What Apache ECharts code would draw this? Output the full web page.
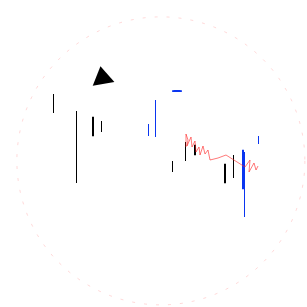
<!DOCTYPE html>
<html><head><meta charset="utf-8">
<script src="https://cdn.jsdelivr.net/npm/echarts@6/dist/echarts.min.js"></script>
<style>html,body{margin:0;padding:0;background:#fff}#c{width:307px;height:307px}</style>
</head><body><div id="c"></div>
<script>
// [x, open, close, low, high]
const blackThin = [[54,194,213,194,213],[77,124,196,124,196],[173,135,146,135,146]];
const blackMid = [[102,175,186,175,186],[186,146,165,146,165],[234,129,152,129,152]];
const blackWide = [[93,171,190,171,190],[195,152,162,152,162],[225,124,143,124,143]];
const blueThin = [[245,90,155,90,155]];
const blueMid = [[149,171,183,171,183],[156,170,207,170,207],[259,163,171,163,171]];
const blueWide = [[243,118,157,118,157]];
const triangle = [[102,232]];
const blueCap = [[177,216]];
const redScribble = [[186,160],[186,173],[188,167],[187,161],[191,170],[192,160],[195,166],[196,155],[199,160],[200,152],[203,161],[205,153],[208,157],[210,147],[218,149],[226,152],[245,140],[250,147],[249,135],[254,144],[256,137],[258,141]];

const BLACK='#000000', BLUE='#0a35f0', RED='#ff2020';
function candle(data,color,w){
  return {type:'candlestick',data:data,encode:{x:0,y:[1,2,3,4]},barWidth:w,
    itemStyle:{color:color,color0:color,borderColor:color,borderColor0:color,borderWidth:1,opacity:1},silent:true};
}
const chart = echarts.init(document.getElementById('c'),null,{renderer:'canvas'});
chart.setOption({
  animation:false,
  grid:{left:0,right:0,top:0,bottom:0},
  xAxis:{type:'value',min:0,max:307,show:false},
  yAxis:{type:'value',min:0,max:307,show:false},
  polar:{center:['52.4%','52.4%'],radius:144},
  angleAxis:{type:'value',min:0,max:360,axisLine:{lineStyle:{color:RED,width:0.25,type:[3,9],opacity:0.7}},axisTick:{show:false},axisLabel:{show:false},splitLine:{show:false}},
  radiusAxis:{show:false,min:0,max:1},
  series:[
    candle(blackThin,BLACK,0.1),
    candle(blackMid,BLACK,1),
    candle(blackWide,BLACK,2),
    candle(blueThin,BLUE,0.1),
    candle(blueMid,BLUE,1),
    candle(blueWide,BLUE,2),
    {type:'scatter',data:triangle,symbol:'triangle',symbolSize:[22,18],symbolRotate:10,itemStyle:{color:BLACK,opacity:1}},
    {type:'scatter',data:blueCap,symbol:'roundRect',symbolSize:[10,2],itemStyle:{color:BLUE,opacity:1}},
    {type:'line',data:redScribble,showSymbol:false,lineStyle:{color:RED,width:0.6}}
  ]
});
</script></body></html>
